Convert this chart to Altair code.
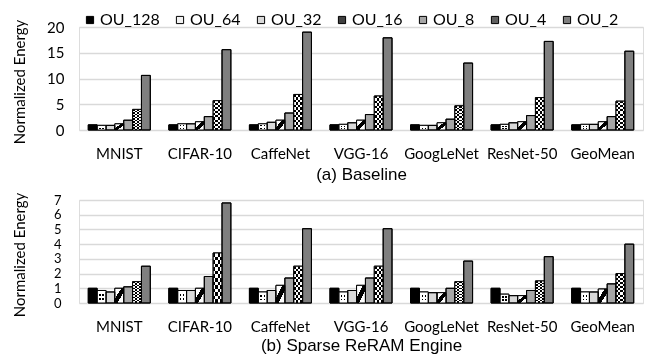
import altair as alt
import pandas as pd

categories = ["MNIST", "CIFAR-10", "CaffeNet", "VGG-16", "GoogLeNet", "ResNet-50", "GeoMean"]
series = ["OU_128", "OU_64", "OU_32", "OU_16", "OU_8", "OU_4", "OU_2"]

baseline_128 = [1.0, 1.0, 1.0, 1.0, 1.0, 1.0, 1.0]
baseline_64 = [0.9, 1.2, 1.2, 1.1, 0.9, 1.1, 1.1]
baseline_32 = [0.9, 1.2, 1.5, 1.4, 0.9, 1.4, 1.1]
baseline_16 = [1.2, 1.6, 1.9, 1.9, 1.4, 1.6, 1.6]
baseline_8 = [1.9, 2.6, 3.3, 3.0, 2.1, 2.8, 2.6]
baseline_4 = [4.0, 5.7, 6.9, 6.6, 4.7, 6.3, 5.6]
baseline_2 = [10.6, 15.6, 19.0, 17.9, 13.0, 17.2, 15.3]

sparse_128 = [1.0, 1.0, 1.0, 1.0, 1.0, 1.0, 1.0]
sparse_64 = [0.85, 0.85, 0.75, 0.75, 0.75, 0.6, 0.75]
sparse_32 = [0.75, 0.85, 0.85, 0.85, 0.7, 0.5, 0.75]
sparse_16 = [1.0, 1.0, 1.2, 1.2, 0.7, 0.5, 0.95]
sparse_8 = [1.1, 1.8, 1.7, 1.7, 1.0, 0.85, 1.3]
sparse_4 = [1.45, 3.4, 2.5, 2.5, 1.45, 1.5, 2.0]
sparse_2 = [2.5, 6.8, 5.05, 5.05, 2.85, 3.15, 4.0]

baseline = [baseline_128, baseline_64, baseline_32, baseline_16, baseline_8, baseline_4, baseline_2]
sparse = [sparse_128, sparse_64, sparse_32, sparse_16, sparse_8, sparse_4, sparse_2]

legend_colors = ["#000000", "#f2f2f2", "#d9d9d9", "#404040", "#a6a6a6", "#5f5f5f", "#7f7f7f"]

FONT = "Lato"
CAPTION_FONT = "Liberation Sans"


def stripe_stops(bands):
    stops = []
    for a, b, col in bands:
        stops.append({"offset": a, "color": col})
        stops.append({"offset": b, "color": col})
    return stops


def alternating(n, c1, c2):
    return [(i / n, (i + 1) / n, c1 if i % 2 == 0 else c2) for i in range(n)]


W, B, T = "#ffffff", "#000000", "rgba(255,255,255,0)"

hatch_grad = {"gradient": "linear", "x1": 0, "y1": 0, "x2": 1, "y2": 1,
              "stops": stripe_stops([(0, 0.36, W), (0.36, 0.64, B), (0.64, 1, W)])}
dot_rows = {"gradient": "linear", "x1": 0, "y1": 0, "x2": 0, "y2": 1,
            "stops": stripe_stops([(0, 0.25, W), (0.25, 0.42, B), (0.42, 0.6, W), (0.6, 0.77, B), (0.77, 1, W)])}
dot_cols = {"gradient": "linear", "x1": 0, "y1": 0, "x2": 1, "y2": 0,
            "stops": stripe_stops([(0, 0.25, W), (0.25, 0.4, T), (0.4, 0.6, W), (0.6, 0.75, T), (0.75, 1, W)])}
check_rows = {"gradient": "linear", "x1": 0, "y1": 0, "x2": 0, "y2": 1,
              "stops": stripe_stops(alternating(14, W, B))}
check_cols = {"gradient": "linear", "x1": 0, "y1": 0, "x2": 1, "y2": 0,
              "stops": stripe_stops(alternating(4, W, B))}


def panel(values, ymax, yvals, caption, show_legend, label_pad_y, label_pad_x, title_pad_x,
          height, ylab_size):
    rows = []
    for s, vals in zip(series, values):
        for c, v in zip(categories, vals):
            rows.append({"cat": c, "series": s, "val": v})
    df = pd.DataFrame(rows)

    base = alt.Chart(df).encode(
        x=alt.X("cat:N", sort=categories,
                scale=alt.Scale(paddingInner=0.23, paddingOuter=0.115),
                axis=alt.Axis(title=caption, labelAngle=0, ticks=False, domain=False, grid=False,
                              labelFont=FONT, labelFontSize=15, labelColor="black",
                              labelPadding=label_pad_x,
                              titleFont=CAPTION_FONT, titleFontSize=17, titleFontWeight="normal",
                              titleColor="black", titlePadding=title_pad_x)),
        xOffset=alt.XOffset("series:N", sort=series,
                            scale=alt.Scale(domain=series, paddingInner=0, paddingOuter=0)),
        y=alt.Y("val:Q", scale=alt.Scale(domain=[0, ymax], nice=False, zero=True),
                axis=alt.Axis(values=yvals, title="Normalized Energy", ticks=False, domain=False,
                              grid=True, gridColor="#d9d9d9", gridWidth=1.5,
                              labelFont=FONT, labelFontSize=ylab_size, labelColor="black",
                              labelPadding=label_pad_y, labelOverlap=False,
                              titleFont=FONT, titleFontSize=15, titleFontWeight="normal",
                              titleColor="black", titleX=-60, titleY=height / 2 + 3,
                              titleBaseline="middle")),
    )

    if show_legend:
        leg = alt.Legend(orient="none", legendX=3, legendY=-15, direction="horizontal", title=None,
                         symbolType="square", symbolSize=52, symbolStrokeColor="black",
                         symbolStrokeWidth=1, labelFont=FONT, labelFontSize=16, labelColor="black",
                         labelOffset=2, columnPadding=12)
    else:
        leg = None

    bars = base.mark_bar(stroke="black", strokeWidth=1).encode(
        color=alt.Color("series:N", sort=series,
                        scale=alt.Scale(domain=series, range=legend_colors), legend=leg)
    )

    def only(name):
        return base.transform_filter(alt.datum.series == name)

    dots_a = only("OU_64").mark_bar(fill=dot_rows, strokeWidth=0)
    dots_b = only("OU_64").mark_bar(fill=dot_cols, strokeWidth=0)
    hatch = only("OU_16").mark_bar(fill=hatch_grad, strokeWidth=0)
    check_a = only("OU_4").mark_bar(fill=check_rows, strokeWidth=0)
    check_b = only("OU_4").mark_bar(fill=check_cols, strokeWidth=0, blend="difference")
    outline = base.mark_bar(fillOpacity=0, stroke="black", strokeWidth=1)

    return alt.layer(bars, dots_a, dots_b, hatch, check_a, check_b, outline).properties(
        width=564, height=height)


top = panel(baseline, 20, [0, 5, 10, 15, 20], "(a) Baseline", True, 15, 16, 5, 103, 15)
bottom = panel(sparse, 7, [0, 1, 2, 3, 4, 5, 6, 7], "(b) Sparse ReRAM Engine", False, 18, 16, 3, 103, 13)

chart = alt.vconcat(top, bottom, spacing=8).resolve_scale(color="independent").properties(
    padding={"left": 3, "top": 3, "right": 0, "bottom": 0}
).configure_view(stroke="black", strokeWidth=1.2).configure(background="white")

chart.save("out.html", embed_options={"renderer": "svg", "actions": False})
